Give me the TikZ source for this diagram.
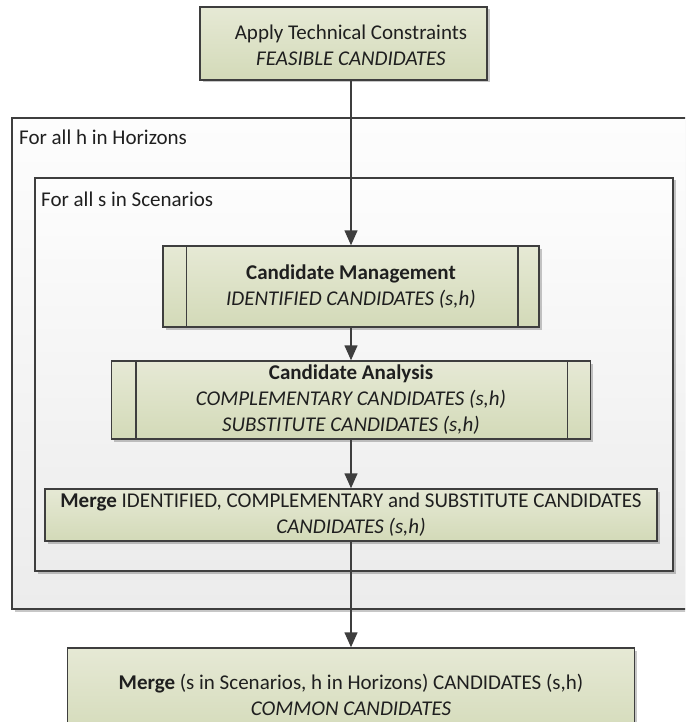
\documentclass[tikz,border=0pt]{standalone}
\usepackage{fontspec}
\setmainfont{Carlito}
\usetikzlibrary{arrows.meta,shadows}
\definecolor{boxtop}{HTML}{E6E9D5}
\definecolor{boxbot}{HTML}{D3DAB8}
\definecolor{edge}{HTML}{3E3E3E}
\definecolor{ink}{HTML}{1F1F1F}
\definecolor{frametop}{HTML}{FDFDFD}
\definecolor{framebot}{HTML}{ECECEC}
\begin{document}
\begin{tikzpicture}[x=1pt,y=-1pt,
  font=\fontsize{21}{26}\selectfont, text=ink,
  softshadow/.style={drop shadow={shadow xshift=2.5pt, shadow yshift=-2.5pt, opacity=0.22, fill=black}},
  stepbox/.style={draw=edge, line width=1.5pt, top color=boxtop, bottom color=boxbot,
    softshadow, align=center, inner sep=0pt},
  framebox/.style={draw=edge, line width=1.5pt, top color=frametop, bottom color=framebot, softshadow},
  framelabel/.style={anchor=base west, inner sep=0pt},
  flow/.style={draw=edge, line width=1.5pt, -{Triangle[length=15pt,width=13pt]}},
  sideline/.style={draw=edge, line width=1.5pt}]

% page area
\clip (0,0) rectangle (685,722);
\fill[white] (0,0) rectangle (685,722);

% loop frames
\path[framebox] (12,118) rectangle (705,609);
\node[framelabel] (hloop) at (19,145) {For all h in Horizons};
\path[framebox] (35,178) rectangle (673,571);
\node[framelabel] (sloop) at (41,206) {For all s in Scenarios};

% process steps
\node[stepbox, minimum width=287pt, minimum height=73pt] (tech) at (343.5,43.5) {};
\node[align=center, inner sep=0pt] (techtext) at (351,45)
  {Apply Technical Constraints\\\textit{FEASIBLE CANDIDATES}};

\node[stepbox, minimum width=376pt, minimum height=81pt] (cm) at (351,286.5)
  {\textbf{Candidate Management}\\\textit{IDENTIFIED CANDIDATES (s,h)}};
\draw[sideline] ([xshift=24pt]cm.north west) -- ([xshift=24pt]cm.south west);
\draw[sideline] ([xshift=-22pt]cm.north east) -- ([xshift=-22pt]cm.south east);

\node[stepbox, minimum width=479pt, minimum height=78pt] (ca) at (351,400)
  {\textbf{Candidate Analysis}\\\textit{COMPLEMENTARY CANDIDATES (s,h)}\\\textit{SUBSTITUTE CANDIDATES (s,h)}};
\draw[sideline] ([xshift=25pt]ca.north west) -- ([xshift=25pt]ca.south west);
\draw[sideline] ([xshift=-24pt]ca.north east) -- ([xshift=-24pt]ca.south east);

\node[stepbox, minimum width=612pt, minimum height=52pt] (merge) at (351,515)
  {\textbf{Merge} IDENTIFIED, COMPLEMENTARY and SUBSTITUTE CANDIDATES\\\textit{CANDIDATES (s,h)}};

\node[stepbox, minimum width=567pt, minimum height=94pt] (common) at (351,695)
  {\textbf{Merge} (s in Scenarios, h in Horizons) CANDIDATES (s,h)\\\textit{COMMON CANDIDATES}};

% connectors
\draw[flow] (cm.north |- tech.south) -- (cm.north);
\draw[flow] (cm.south) -- (ca.north);
\draw[flow] (ca.south) -- (merge.north);
\draw[flow] (merge.south) -- (common.north);
\end{tikzpicture}
\end{document}
